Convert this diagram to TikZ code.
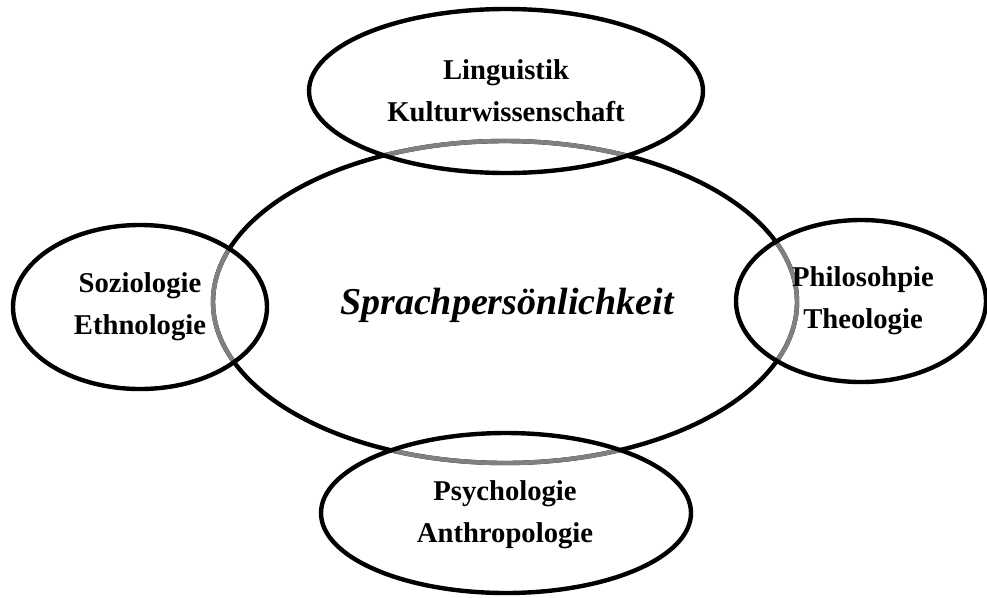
\documentclass[tikz,border=0pt]{standalone}
\usepackage{fontspec}
\setmainfont{Liberation Serif}
\usetikzlibrary{calc}
\definecolor{RimClr}{rgb}{0,0,0}
\definecolor{OverlapClr}{rgb}{0.5,0.5,0.5}

\begin{document}
\begin{tikzpicture}[x=0.75pt,y=-0.75pt]
\tikzset{rim/.style={line width=3.3pt,color=RimClr},
         field/.style={font=\bfseries\fontsize{21.5}{31.5}\selectfont,align=center,inner sep=0pt}}
\useasboundingbox (0,0) rectangle (987,597);

\coordinate (Ocore) at (505,302);
\coordinate (Otop) at (506,91);
\coordinate (Oleft) at (140,307);
\coordinate (Oright) at (861,301);
\coordinate (Obottom) at (506,513);

% core ellipse
\draw[rim] (Ocore) ellipse [x radius=292, y radius=161];

% parts of the core inside the fields
\foreach \c/\rx/\ry in {Otop/197/82,Oleft/127/82,Oright/125/81,Obottom/185/80}{
  \begin{scope}
    \clip (\c) ellipse [x radius=\rx, y radius=\ry];
    \draw[rim,color=OverlapClr] (Ocore) ellipse [x radius=292, y radius=161];
  \end{scope}
}

% the fields
\foreach \c/\rx/\ry in {Otop/197/82,Oleft/127/82,Oright/125/81,Obottom/185/80}{
  \draw[rim] (\c) ellipse [x radius=\rx, y radius=\ry];
}

\node[font=\bfseries\itshape\fontsize{28.5}{34}\selectfont,inner sep=0pt] (core) at (507,305) {Sprachpersönlichkeit};
\node[field] (ling) at (506,91) {Linguistik\\Kulturwissenschaft};
\node[field] (sozio) at (140,307) {Soziologie\\Ethnologie};
\node[field] (philo) at (863,301) {Philosohpie\\Theologie};
\node[field] (psych) at (505,515) {Psychologie\\Anthropologie};

\end{tikzpicture}
\end{document}
